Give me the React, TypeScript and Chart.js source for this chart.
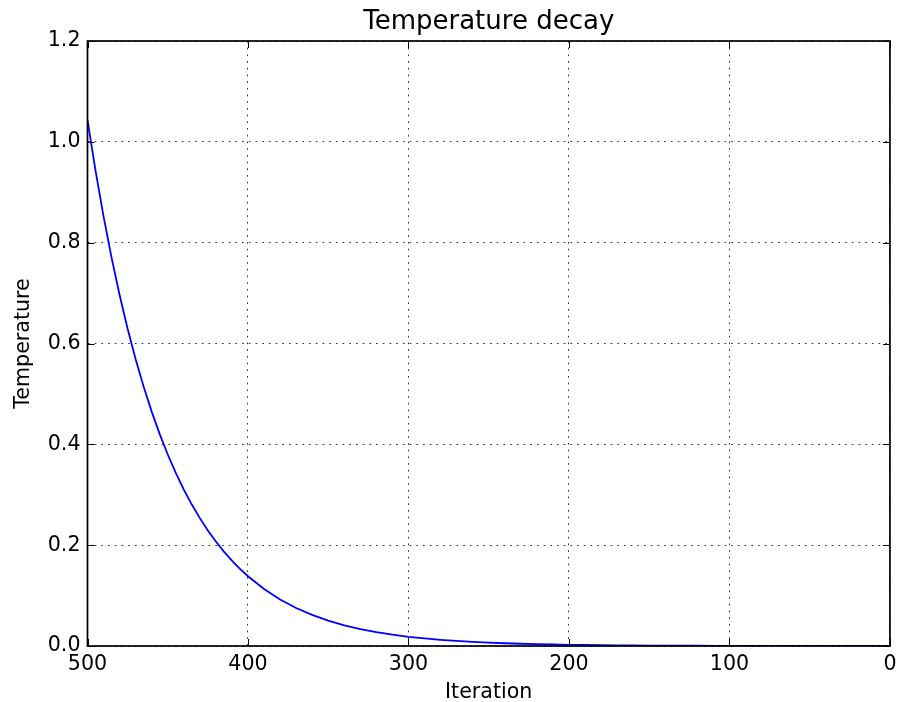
import React, { useEffect, useRef } from 'react';
import { Chart, registerables } from 'chart.js';

Chart.register(...registerables);

const chartTitle = 'Temperature decay';
const xAxisLabel = 'Iteration';
const yAxisLabel = 'Temperature';

const iterations = [
  500, 495, 490, 485, 480, 475, 470, 465, 460, 455, 450, 445, 440, 435, 430, 425, 420, 415, 410, 405, 400,
  390, 380, 370, 360, 350, 340, 330, 320, 310, 300, 290, 280, 270, 260, 250, 240, 230, 220, 210, 200,
  190, 180, 170, 160, 150, 140, 130, 120, 110, 100, 90, 80, 70, 60, 50, 40, 30, 20, 10, 0,
];

const temperatures = [
  1.043, 0.9428, 0.8522, 0.7703, 0.6963, 0.6294, 0.5689, 0.5143, 0.4649, 0.4202, 0.3798, 0.3433, 0.3103,
  0.2805, 0.2536, 0.2292, 0.2072, 0.1873, 0.1693, 0.153, 0.1383,
  0.113, 0.0923, 0.0754, 0.0616, 0.0504, 0.0411, 0.0336, 0.0275, 0.0224, 0.0183, 0.015, 0.0122, 0.01,
  0.0082, 0.0067, 0.0055, 0.0045, 0.0036, 0.003, 0.0024,
  0.002, 0.0016, 0.0013, 0.0011, 0.0009, 0.0007, 0.0006, 0.0005, 0.0004, 0.0003, 0.0003, 0.0002, 0.0002,
  0.0002, 0.0001, 0.0001, 0.0001, 0.0001, 0.0001, 0.0001,
];

const xTickValues = [500, 400, 300, 200, 100, 0];
const yTickValues = [0, 0.2, 0.4, 0.6, 0.8, 1.0, 1.2];

const FONT = 'DejaVu Sans';

const frameTicksPlugin = {
  id: 'frameTicks',
  afterDatasetsDraw(chart: any) {
    const { ctx, chartArea: a, scales } = chart;
    const x = scales.x;
    const y = scales.y;
    const len = 7;
    ctx.save();
    ctx.strokeStyle = '#000';
    ctx.lineWidth = 1;
    ctx.beginPath();
    x.ticks.forEach((t: any) => {
      const px = Math.round(x.getPixelForValue(t.value)) + 0.5;
      ctx.moveTo(px, a.bottom);
      ctx.lineTo(px, a.bottom - len);
      ctx.moveTo(px, a.top);
      ctx.lineTo(px, a.top + len);
    });
    y.ticks.forEach((t: any) => {
      const py = Math.round(y.getPixelForValue(t.value)) + 0.5;
      ctx.moveTo(a.left, py);
      ctx.lineTo(a.left + len, py);
      ctx.moveTo(a.right, py);
      ctx.lineTo(a.right - len, py);
    });
    ctx.stroke();
    ctx.lineWidth = 1.7;
    ctx.strokeRect(a.left, a.top, a.right - a.left, a.bottom - a.top);
    ctx.restore();
  },
};

export default function App() {
  const canvasRef = useRef<HTMLCanvasElement | null>(null);

  useEffect(() => {
    const canvas = canvasRef.current;
    if (!canvas) return;
    const points = iterations.map((it, i) => ({ x: it, y: temperatures[i] }));
    const chart = new Chart(canvas, {
      type: 'line',
      data: {
        datasets: [
          {
            data: points,
            borderColor: '#0000ff',
            borderWidth: 1.8,
            pointRadius: 0,
            tension: 0,
            fill: false,
          },
        ],
      },
      options: {
        responsive: false,
        animation: false,
        devicePixelRatio: 1,
        layout: { padding: { left: 0, right: 9, top: 0, bottom: 0 } },
        plugins: {
          legend: { display: false },
          tooltip: { enabled: false },
          title: {
            display: true,
            text: chartTitle,
            fullSize: false,
            color: '#000',
            font: { family: FONT, size: 26, weight: 'normal' },
            padding: { top: 6.4, bottom: 3.4 },
          },
        },
        scales: {
          x: {
            type: 'linear',
            reverse: true,
            min: 0,
            max: 500,
            afterBuildTicks: (s: any) => {
              s.ticks = xTickValues.map((v) => ({ value: v }));
            },
            afterFit: (s: any) => {
              s.height = 56;
            },
            ticks: {
              autoSkip: false,
              maxRotation: 0,
              padding: 6.5,
              color: '#000',
              font: { family: FONT, size: 20.6 },
              callback: (v: any) => String(v),
            },
            grid: {
              drawTicks: false,
              color: 'rgba(0,0,0,0.8)',
              lineWidth: 1,
            },
            border: { display: false, dash: [1.7, 5] },
            title: {
              display: true,
              text: xAxisLabel,
              color: '#000',
              font: { family: FONT, size: 20.6 },
              padding: { top: 0, bottom: -3 },
            },
          },
          y: {
            type: 'linear',
            min: 0,
            max: 1.2,
            afterBuildTicks: (s: any) => {
              s.ticks = yTickValues.map((v) => ({ value: v }));
            },
            afterFit: (s: any) => {
              s.width = 87.5;
            },
            ticks: {
              autoSkip: false,
              padding: 7,
              color: '#000',
              font: { family: FONT, size: 20.6 },
              callback: (v: any) => Number(v).toFixed(1),
            },
            grid: {
              drawTicks: false,
              color: 'rgba(0,0,0,0.8)',
              lineWidth: 1,
            },
            border: { display: false, dash: [1.7, 5] },
            title: {
              display: true,
              text: yAxisLabel,
              color: '#000',
              font: { family: FONT, size: 20.6 },
              padding: { top: 11, bottom: 0 },
            },
          },
        },
      },
      plugins: [frameTicksPlugin],
    } as any);
    return () => chart.destroy();
  }, []);

  return (
    <div style={{ position: 'absolute', left: 0, top: 0, width: 903, height: 702, background: '#fff' }}>
      <canvas ref={canvasRef} width={903} height={702} style={{ display: 'block', width: 903, height: 702 }} />
    </div>
  );
}
